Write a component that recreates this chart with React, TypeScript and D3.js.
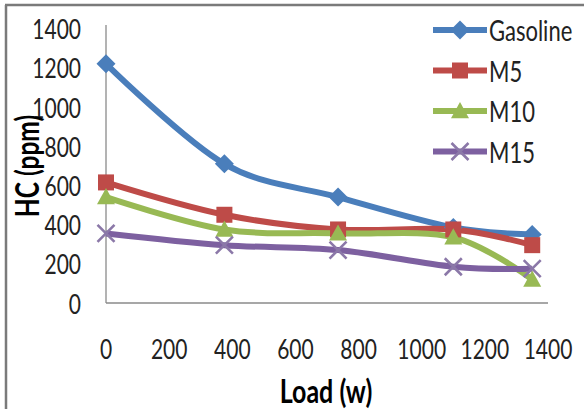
import React from "react";
import * as d3 from "d3";

const loads = [0, 375, 735, 1100, 1350];
const gasoline = [1220, 710, 540, 385, 350];
const m5 = [615, 450, 375, 375, 295];
const m10 = [540, 375, 355, 335, 120];
const m15 = [355, 295, 270, 185, 175];
const seriesNames = ["Gasoline", "M5", "M10", "M15"];
const seriesColors = ["#4A7EBB", "#BE4B48", "#98B954", "#7D60A0"];
const markerKinds = ["diamond", "square", "triangle", "x"];
const xTicks = [0, 200, 400, 600, 800, 1000, 1200, 1400];
const yTicks = [0, 200, 400, 600, 800, 1000, 1200, 1400];

const W = 584;
const H = 409;
const FONT = "Lato, 'Open Sans', sans-serif";
const SY = 1.3;

function T(props: { x: number; y: number; anchor?: string; bold?: boolean; size?: number; rotate?: number; children: any }) {
  const { x, y, anchor = "middle", bold = false, size = 21, rotate = 0, children } = props;
  return (
    <text
      transform={`translate(${x},${y}) rotate(${rotate}) scale(1,${SY})`}
      textAnchor={anchor}
      dominantBaseline="central"
      fontFamily={FONT}
      fontWeight={bold ? 700 : 400}
      fontSize={size}
      fill={bold ? "#000" : "#222"}
    >
      {children}
    </text>
  );
}

function Marker(props: { kind: string; x: number; y: number; color: string }) {
  const { kind, x, y, color } = props;
  if (kind === "diamond") {
    const s = 9.5;
    return <path d={`M${x},${y - s}L${x + s},${y}L${x},${y + s}L${x - s},${y}Z`} fill={color} />;
  }
  if (kind === "square") {
    const s = 8;
    return <rect x={x - s} y={y - s} width={2 * s} height={2 * s} fill={color} />;
  }
  if (kind === "triangle") {
    const s = 9;
    return <path d={`M${x},${y - s}L${x + s},${y + s * 0.8}L${x - s},${y + s * 0.8}Z`} fill={color} />;
  }
  const s = 8.5;
  return (
    <path
      d={`M${x - s},${y - s}L${x + s},${y + s}M${x - s},${y + s}L${x + s},${y - s}`}
      stroke="#8B78A8"
      strokeWidth={2.6}
      fill="none"
    />
  );
}

export default function App() {
  const x = d3.scaleLinear().domain([0, 1400]).range([106, 548]);
  const y = d3.scaleLinear().domain([0, 1400]).range([303, 28.5]);
  const all = [gasoline, m5, m10, m15];
  const line = d3
    .line<number>()
    .x((_, i) => x(loads[i]))
    .y((d) => y(d))
    .curve(d3.curveCardinal.tension(0));

  const legendY = (i: number) => 30 + i * 40.5;

  return (
    <svg width={W} height={H} style={{ position: "fixed", left: 0, top: 0, background: "#fff" }}>
      <rect x={0} y={0} width={W} height={H} fill="#fff" />
      {/* outer border */}
      <line x1={5} x2={W} y1={5} y2={5} stroke="#7a7a7a" strokeWidth={2.5} />
      <line x1={6} x2={6} y1={5} y2={H} stroke="#7a7a7a" strokeWidth={2.5} />
      {/* axes */}
      <line x1={x(0)} x2={x(0)} y1={25} y2={y(0)} stroke="#8a8a8a" strokeWidth={1.3} />
      <line x1={x(0)} x2={x(1400)} y1={y(0)} y2={y(0)} stroke="#8a8a8a" strokeWidth={1.3} />
      {/* y tick labels */}
      {yTicks.map((t) => (
        <T key={"y" + t} x={81} y={y(t)} anchor="end">
          {t}
        </T>
      ))}
      {/* x tick labels */}
      {xTicks.map((t) => (
        <T key={"x" + t} x={x(t)} y={348}>
          {t}
        </T>
      ))}
      {/* axis titles */}
      <T x={326} y={390} bold size={25}>
        Load (w)
      </T>
      <T x={27} y={166} bold size={24.5} rotate={-90}>
        HC (ppm)
      </T>
      {/* series */}
      {all.map((vals, si) => (
        <path key={"l" + si} d={line(vals) || ""} fill="none" stroke={seriesColors[si]} strokeWidth={6} strokeLinejoin="round" />
      ))}
      {all.map((vals, si) =>
        vals.map((v, i) => (
          <Marker key={"m" + si + "-" + i} kind={markerKinds[si]} x={x(loads[i])} y={y(v)} color={seriesColors[si]} />
        ))
      )}
      {/* legend */}
      {seriesNames.map((n, i) => (
        <g key={"lg" + i}>
          <line x1={433} x2={487} y1={legendY(i)} y2={legendY(i)} stroke={seriesColors[i]} strokeWidth={6} />
          <Marker kind={markerKinds[i]} x={460} y={legendY(i)} color={seriesColors[i]} />
          <T x={489} y={legendY(i)} anchor="start" size={22}>
            {n}
          </T>
        </g>
      ))}
    </svg>
  );
}
